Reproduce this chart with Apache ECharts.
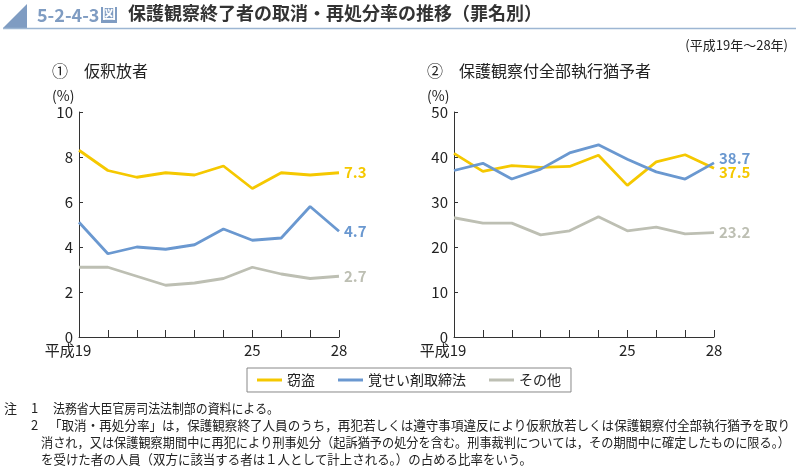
<!DOCTYPE html>
<html><head><meta charset="utf-8">
<script src="https://cdn.jsdelivr.net/npm/echarts@6/dist/echarts.min.js"></script>
<style>html,body{margin:0;padding:0;background:#fff}#c{width:796px;height:471px}</style>
</head><body><div id="c"></div>
<script>
const categories = ['19','20','21','22','23','24','25','26','27','28'];
const seriesNames = ['窃盗','覚せい剤取締法','その他'];
const leftTheft = [8.3, 7.4, 7.1, 7.3, 7.2, 7.6, 6.6, 7.3, 7.2, 7.3];
const leftDrug  = [5.1, 3.7, 4.0, 3.9, 4.1, 4.8, 4.3, 4.4, 5.8, 4.7];
const leftOther = [3.1, 3.1, 2.7, 2.3, 2.4, 2.6, 3.1, 2.8, 2.6, 2.7];
const rightTheft = [40.8, 36.8, 38.1, 37.7, 37.9, 40.4, 33.7, 38.9, 40.5, 37.5];
const rightDrug  = [37.0, 38.6, 35.1, 37.3, 40.9, 42.7, 39.5, 36.7, 35.1, 38.7];
const rightOther = [26.5, 25.3, 25.3, 22.7, 23.6, 26.7, 23.6, 24.4, 22.9, 23.2];
const leftTicks = {min:0, max:10, interval:2};
const rightTicks = {min:0, max:50, interval:10};

const colors = ['#F5C800','#6A98D0','#BDBFB3'];
const FONT = '"Noto Sans CJK JP", "Noto Sans", sans-serif';
const shown = [0,6,9];

function xAxis(gi){
  return {
    type:'category', gridIndex:gi, data:categories, boundaryGap:false,
    axisLine:{lineStyle:{color:'#333', width:1}},
    axisTick:{inside:true, length:7, interval:0, lineStyle:{color:'#333'}},
    axisLabel:{
      interval:(i)=>shown.includes(i), color:'#222', fontSize:15, fontFamily:FONT, margin:6,
      formatter:(v,i)=> i===0 ? '{a|平成'+v+'}' : v,
      rich:{a:{fontSize:15, fontFamily:FONT, color:'#222', padding:[0,22,0,0]}}
    }
  };
}
function yAxis(gi, t){
  return {
    type:'value', gridIndex:gi, min:t.min, max:t.max, interval:t.interval,
    axisLine:{show:true, lineStyle:{color:'#333', width:1}},
    axisTick:{show:true, inside:true, length:4, lineStyle:{color:'#333'}},
    splitLine:{show:false},
    axisLabel:{color:'#222', fontSize:15, fontFamily:FONT, margin:6}
  };
}
function line(name, data, gi, ci, off){
  return {
    name, type:'line', xAxisIndex:gi, yAxisIndex:gi, data,
    showSymbol:false, symbol:'none', lineStyle:{color:colors[ci], width:2.8},
    itemStyle:{color:colors[ci]},
    endLabel:{show:true, formatter:(p)=>p.value.toFixed(1), color:colors[ci],
      fontSize:15, fontWeight:'bold', fontFamily:FONT, distance:5, offset:off||[0,0]},
    silent:true, animation:false
  };
}

// notes text fitted to measured widths of the reference
const ctx = document.createElement('canvas').getContext('2d');
function note(text, x, y, xEnd){
  const font = '13px ' + FONT;
  ctx.font = font;
  const w = ctx.measureText(text).width;
  const s = xEnd ? (xEnd - x) / w : 1;
  return {type:'text', x:x, y:y, scaleX:s, style:{text:text, fill:'#222', font:font}};
}

const chart = echarts.init(document.getElementById('c'), null, {renderer:'canvas'});
chart.setOption({
  backgroundColor:'#fff',
  animation:false,
  grid:[
    {left:79, top:112, width:260, height:225},
    {left:454, top:112, width:260, height:225}
  ],
  xAxis:[xAxis(0), xAxis(1)],
  yAxis:[yAxis(0,leftTicks), yAxis(1,rightTicks)],
  legend:{
    data:seriesNames, left:247, top:368, icon:'rect', itemWidth:25, itemHeight:3,
    itemGap:23, padding:[5,10,5,10], borderColor:'#888', borderWidth:1, borderRadius:0,
    textStyle:{fontSize:14, fontFamily:FONT, color:'#222', padding:[0,0,0,0]},
    selectedMode:false
  },
  series:[
    line(seriesNames[0], leftTheft, 0, 0),
    line(seriesNames[1], leftDrug, 0, 1),
    line(seriesNames[2], leftOther, 0, 2),
    line(seriesNames[0], rightTheft, 1, 0, [0,4]),
    line(seriesNames[1], rightDrug, 1, 1, [0,-5]),
    line(seriesNames[2], rightOther, 1, 2)
  ],
  graphic:[
    {type:'polygon', shape:{points:[[3,28],[27,4],[27,28]]}, style:{fill:'#7F9CC2'}},
    {type:'line', shape:{x1:3,y1:28.5,x2:796,y2:28.5}, style:{stroke:'#9DB6D3', lineWidth:1.5}},
    {type:'text', left:37, top:6, style:{text:'5-2-4-3', fill:'#7F9CC2', font:'bold 18px '+FONT}},
    {type:'rect', shape:{x:101,y:7,width:16,height:16}, style:{fill:'#7F9CC2'}},
    {type:'text', left:102, top:6, style:{text:'図', fill:'#fff', font:'bold 14px '+FONT}},
    {type:'text', left:128, top:4, style:{text:'保護観察終了者の取消・再処分率の推移（罪名別）', fill:'#333', font:'bold 18px '+FONT}},
    {type:'text', right:8, top:39, style:{text:'(平成19年～28年)', fill:'#222', font:'13px '+FONT}},
    {type:'text', left:52, top:63, style:{text:'①　仮釈放者', fill:'#222', font:'16px '+FONT}},
    {type:'text', left:427, top:63, style:{text:'②　保護観察付全部執行猶予者', fill:'#222', font:'16px '+FONT}},
    {type:'text', left:52, top:89, style:{text:'(%)', fill:'#222', font:'14px '+FONT}},
    {type:'text', left:427, top:89, style:{text:'(%)', fill:'#222', font:'14px '+FONT}},
    note('注', 4, 402),
    note('1', 31, 402),
    note('法務省大臣官房司法法制部の資料による。', 53, 402, 279),
    note('2', 31, 419),
    note('「取消・再処分率」は，保護観察終了人員のうち，再犯若しくは遵守事項違反により仮釈放若しくは保護観察付全部執行猶予を取り', 49, 419, 790),
    note('消され，又は保護観察期間中に再犯により刑事処分（起訴猶予の処分を含む。刑事裁判については，その期間中に確定したものに限る。）', 41, 436, 790),
    note('を受けた者の人員（双方に該当する者は１人として計上される。）の占める比率をいう。', 41, 453, 532)
  ]
});
</script></body></html>
